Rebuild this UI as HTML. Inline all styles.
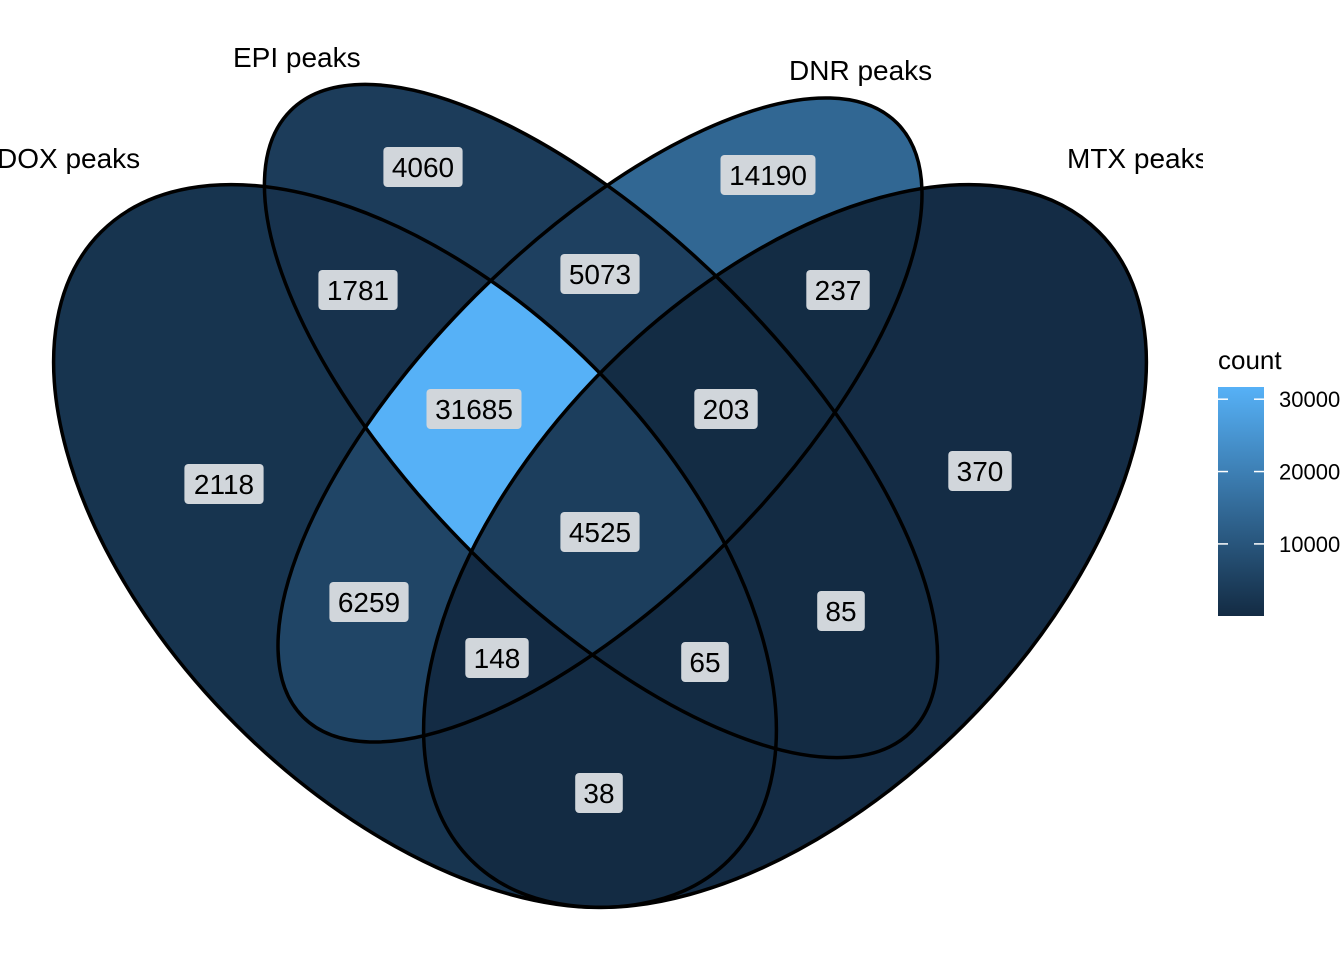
<!DOCTYPE html>
<html><head><meta charset="utf-8"><style>
html,body{margin:0;padding:0;background:#fff;overflow:hidden;width:1344px;height:960px;}
svg{display:block;font-family:"Liberation Sans",Arial,sans-serif;}
</style></head><body>
<svg id="chart" width="1344" height="960" viewBox="0 0 1344 960" xmlns="http://www.w3.org/2000/svg">
<defs id="defs">
<linearGradient id="lg" x1="0" y1="1" x2="0" y2="0">
<stop offset="0" stop-color="#132B43"/><stop offset="1" stop-color="#56B1F7"/>
</linearGradient>
<clipPath id="panelClip"><rect x="0" y="0" width="1203" height="960"/></clipPath>
</defs>
<g id="regions"></g>
<g id="outlines"></g>
<g id="labels"></g>
<g clip-path="url(#panelClip)" font-size="28" fill="#000">
<text x="-3" y="168">DOX peaks</text>
<text x="233" y="67">EPI peaks</text>
<text x="789" y="80">DNR peaks</text>
<text x="1067" y="168">MTX peaks</text>
</g>
<g>
<text x="1218" y="369" font-size="26">count</text>
<rect x="1218" y="387" width="46" height="229" fill="url(#lg)"/>
<g id="legendTicks"></g>
</g>
</svg>
<script>
const setNames = ["DOX","EPI","DNR","MTX"];
const regionSets = [["DOX"],["EPI"],["DNR"],["MTX"],["DOX","EPI"],["EPI","DNR"],["DNR","MTX"],["DOX","EPI","DNR"],["EPI","DNR","MTX"],["DOX","DNR"],["EPI","MTX"],["DOX","EPI","DNR","MTX"],["DOX","DNR","MTX"],["DOX","EPI","MTX"],["DOX","MTX"]];
const regionCounts = [2118,4060,14190,370,1781,5073,237,31685,203,6259,85,4525,148,65,38];
const legendTicks = [10000,20000,30000];

const NS="http://www.w3.org/2000/svg";
const ell = {
 DOX:{cx:415,cy:546,a:444,b:253,rot:45},
 EPI:{cx:601,cy:421,a:439,b:184,rot:45},
 DNR:{cx:600,cy:420,a:420,b:176,rot:-45},
 MTX:{cx:785,cy:546,a:444,b:253,rot:-45}
};
const labelPos = {"DOX":[224,484],"EPI":[423,167],"DNR":[768,175],"MTX":[980,471],"DOX,EPI":[358,290],"EPI,DNR":[600,274],"DNR,MTX":[838,290],"DOX,EPI,DNR":[474,409],"EPI,DNR,MTX":[726,409],"DOX,DNR":[369,602],"EPI,MTX":[841,611],"DOX,EPI,DNR,MTX":[600,532],"DOX,DNR,MTX":[497,658],"DOX,EPI,MTX":[705,662],"DOX,MTX":[599,793]};
const cmin=Math.min(...regionCounts), cmax=Math.max(...regionCounts);
function color(v){const t=(v-cmin)/(cmax-cmin);const l=[0x13,0x2B,0x43],h=[0x56,0xB1,0xF7];
 return "rgb("+l.map((x,i)=>Math.round(x+(h[i]-x)*t)).join(",")+")";}
function mkEll(s){const e=document.createElementNS(NS,"ellipse");const p=ell[s];
 e.setAttribute("cx",p.cx);e.setAttribute("cy",p.cy);e.setAttribute("rx",p.a);e.setAttribute("ry",p.b);
 e.setAttribute("transform","rotate("+p.rot+" "+p.cx+" "+p.cy+")");return e;}
const defs=document.getElementById("defs");
setNames.forEach(s=>{const c=document.createElementNS(NS,"clipPath");c.setAttribute("id","clip"+s);c.appendChild(mkEll(s));defs.appendChild(c);});
const regG=document.getElementById("regions"), labG=document.getElementById("labels");
regionSets.forEach((sets,i)=>{
 const others=setNames.filter(s=>!sets.includes(s));
 const m=document.createElementNS(NS,"mask");m.setAttribute("id","mask"+i);
 const wr=document.createElementNS(NS,"rect");wr.setAttribute("x",0);wr.setAttribute("y",0);wr.setAttribute("width",1344);wr.setAttribute("height",960);wr.setAttribute("fill","#fff");m.appendChild(wr);
 others.forEach(o=>{const e=mkEll(o);e.setAttribute("fill","#000");m.appendChild(e);});
 defs.appendChild(m);
 let outer=document.createElementNS(NS,"g");regG.appendChild(outer);let cur=outer;
 sets.forEach((s,k)=>{const g=k==0?cur:document.createElementNS(NS,"g");if(k>0)cur.appendChild(g);g.setAttribute("clip-path","url(#clip"+s+")");cur=g;});
 const r=document.createElementNS(NS,"rect");
 
 
 r.setAttribute("x",0);r.setAttribute("y",0);r.setAttribute("width",1344);r.setAttribute("height",960);
 r.setAttribute("fill",color(regionCounts[i]));r.setAttribute("mask","url(#mask"+i+")");cur.appendChild(r);
 const p=labelPos[sets.join(",")];const txt=String(regionCounts[i]);const w=txt.length*15.8+16;
 const g=document.createElementNS(NS,"g");
 
 
 const b=document.createElementNS(NS,"rect");b.setAttribute("x",p[0]-w/2);b.setAttribute("y",p[1]-20);b.setAttribute("width",w);b.setAttribute("height",40);b.setAttribute("rx",4);b.setAttribute("fill","#d1d6db");
 const t=document.createElementNS(NS,"text");t.setAttribute("x",p[0]);t.setAttribute("y",p[1]+10);t.setAttribute("text-anchor","middle");t.setAttribute("font-size","28");t.textContent=txt;
 g.appendChild(b);g.appendChild(t);labG.appendChild(g);
});
const outG=document.getElementById("outlines");
setNames.forEach(s=>{const e=mkEll(s);
 
 
 e.setAttribute("fill","none");e.setAttribute("stroke","#000");e.setAttribute("stroke-width","3.5");outG.appendChild(e);});
const lt=document.getElementById("legendTicks");
function ly(v){return 616-(v-cmin)/(cmax-cmin)*229;}
legendTicks.forEach(v=>{const y=ly(v);
 [[1218,1228],[1254,1264]].forEach(xx=>{const l=document.createElementNS(NS,"line");l.setAttribute("x1",xx[0]);l.setAttribute("x2",xx[1]);l.setAttribute("y1",y);l.setAttribute("y2",y);l.setAttribute("stroke","#fff");l.setAttribute("stroke-width","1.5");lt.appendChild(l);});
 const t=document.createElementNS(NS,"text");
 
 
 t.setAttribute("x",1279);t.setAttribute("y",y+8);t.setAttribute("font-size","22");t.textContent=v;lt.appendChild(t);});
</script>
</body></html>
